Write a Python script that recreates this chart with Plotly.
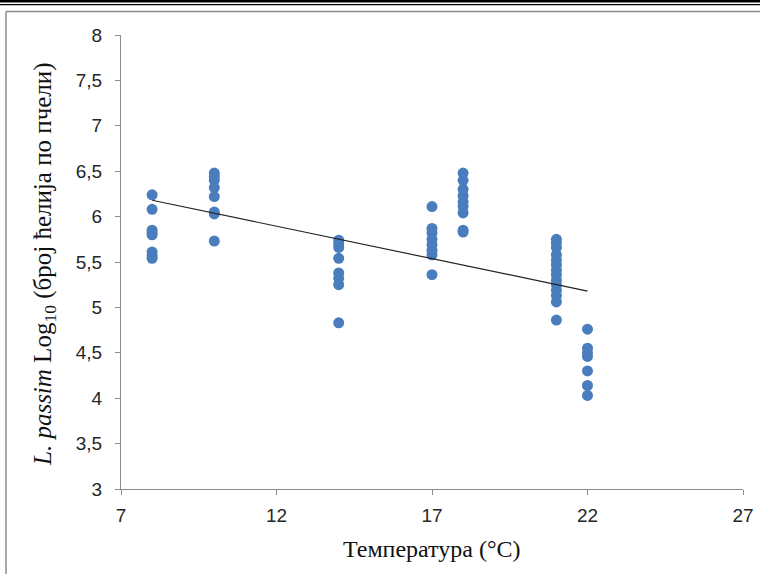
import plotly.graph_objects as go

# Temperature groups (°C) and measured L. passim loads (log10 cells per bee)
temp_8 = [6.24, 6.08, 5.85, 5.82, 5.80, 5.61, 5.57, 5.54]
temp_10 = [6.48, 6.44, 6.40, 6.32, 6.22, 6.05, 6.03, 5.73]
temp_14 = [5.74, 5.70, 5.66, 5.54, 5.38, 5.32, 5.25, 4.83]
temp_17 = [6.11, 5.87, 5.82, 5.75, 5.69, 5.63, 5.58, 5.36]
temp_18 = [6.48, 6.40, 6.30, 6.23, 6.16, 6.11, 6.04, 5.85, 5.83]
temp_21 = [5.75, 5.71, 5.66, 5.58, 5.52, 5.47, 5.41, 5.36, 5.30, 5.25, 5.19, 5.13, 5.06, 4.86]
temp_22 = [4.76, 4.55, 4.50, 4.46, 4.30, 4.14, 4.03]

groups = {8: temp_8, 10: temp_10, 14: temp_14, 17: temp_17,
          18: temp_18, 21: temp_21, 22: temp_22}

# Linear trend line endpoints
trend_x = [8, 22]
trend_y = [6.18, 5.18]

x_ticks = [7, 12, 17, 22, 27]
y_ticks = [3, 3.5, 4, 4.5, 5, 5.5, 6, 6.5, 7, 7.5, 8]
y_tick_text = ["3", "3,5", "4", "4,5", "5", "5,5", "6", "6,5", "7", "7,5", "8"]

xs, ys = [], []
for t, vals in groups.items():
    xs += [t] * len(vals)
    ys += vals

fig = go.Figure()
fig.add_trace(go.Scatter(
    x=xs, y=ys, mode="markers",
    marker=dict(color="#4a7dbd", size=11, line=dict(width=0)),
    showlegend=False, hoverinfo="skip",
))
fig.add_trace(go.Scatter(
    x=trend_x, y=trend_y, mode="lines",
    line=dict(color="#222222", width=1.2),
    showlegend=False, hoverinfo="skip",
))

W, H = 760, 574
L, R, T, B = 121, 743, 35, 489


def px(x):
    return (x - L) / (R - L)


def py(y):
    return (B - y) / (B - T)


shapes = [
    # heavy rule at the very top of the page and its thin companion
    dict(type="rect", xref="paper", yref="paper", x0=px(0), x1=px(W),
         y0=py(2.6), y1=py(0), fillcolor="black", line=dict(width=0)),
    dict(type="line", xref="paper", yref="paper", x0=px(0), x1=px(W),
         y0=py(4.6), y1=py(4.6), line=dict(color="black", width=1.2)),
    # chart frame (top and left edges)
    dict(type="line", xref="paper", yref="paper", x0=px(6), x1=px(W),
         y0=py(11.5), y1=py(11.5), line=dict(color="#8c8c8c", width=1.5)),
    dict(type="line", xref="paper", yref="paper", x0=px(6), x1=px(6),
         y0=py(11.5), y1=py(H), line=dict(color="#8c8c8c", width=1.5)),
]

fig.update_layout(
    width=W, height=H, autosize=False,
    margin=dict(l=L, r=W - R, t=T, b=H - B, pad=0, autoexpand=False),
    paper_bgcolor="white", plot_bgcolor="white",
    shapes=shapes,
    font=dict(family="Liberation Sans, Arial, sans-serif", color="#262626", size=19),
    xaxis=dict(
        range=[7, 27], tickvals=x_ticks, ticktext=[str(v) for v in x_ticks],
        showgrid=False, zeroline=False, showline=True, linecolor="#8c8c8c",
        linewidth=1, ticks="outside", ticklen=5, tickcolor="#8c8c8c",
        tickfont=dict(size=19), fixedrange=True, automargin=False,
        ticklabelstandoff=4,
    ),
    yaxis=dict(
        range=[3, 8], tickvals=y_ticks, ticktext=y_tick_text,
        showgrid=False, zeroline=False, showline=True, linecolor="#8c8c8c",
        linewidth=1, ticks="outside", ticklen=5, tickcolor="#8c8c8c",
        tickfont=dict(size=19), fixedrange=True, automargin=False,
        ticklabelstandoff=9,
    ),
    annotations=[
        dict(text="<i>L. passim</i> Log<sub>10</sub> (број ћелија по пчели)",
             xref="paper", yref="paper", x=px(44), y=py(264),
             xanchor="center", yanchor="middle", textangle=-90, showarrow=False,
             font=dict(family="Liberation Serif, Times New Roman, serif",
                       size=25, color="#111111")),
        dict(text="Температура (°C)",
             xref="paper", yref="paper", x=px(432), y=py(549),
             xanchor="center", yanchor="middle", showarrow=False,
             font=dict(family="Liberation Serif, Times New Roman, serif",
                       size=24, color="#111111")),
    ],
)

fig.write_html("out.html", config={"responsive": False, "displayModeBar": False})
